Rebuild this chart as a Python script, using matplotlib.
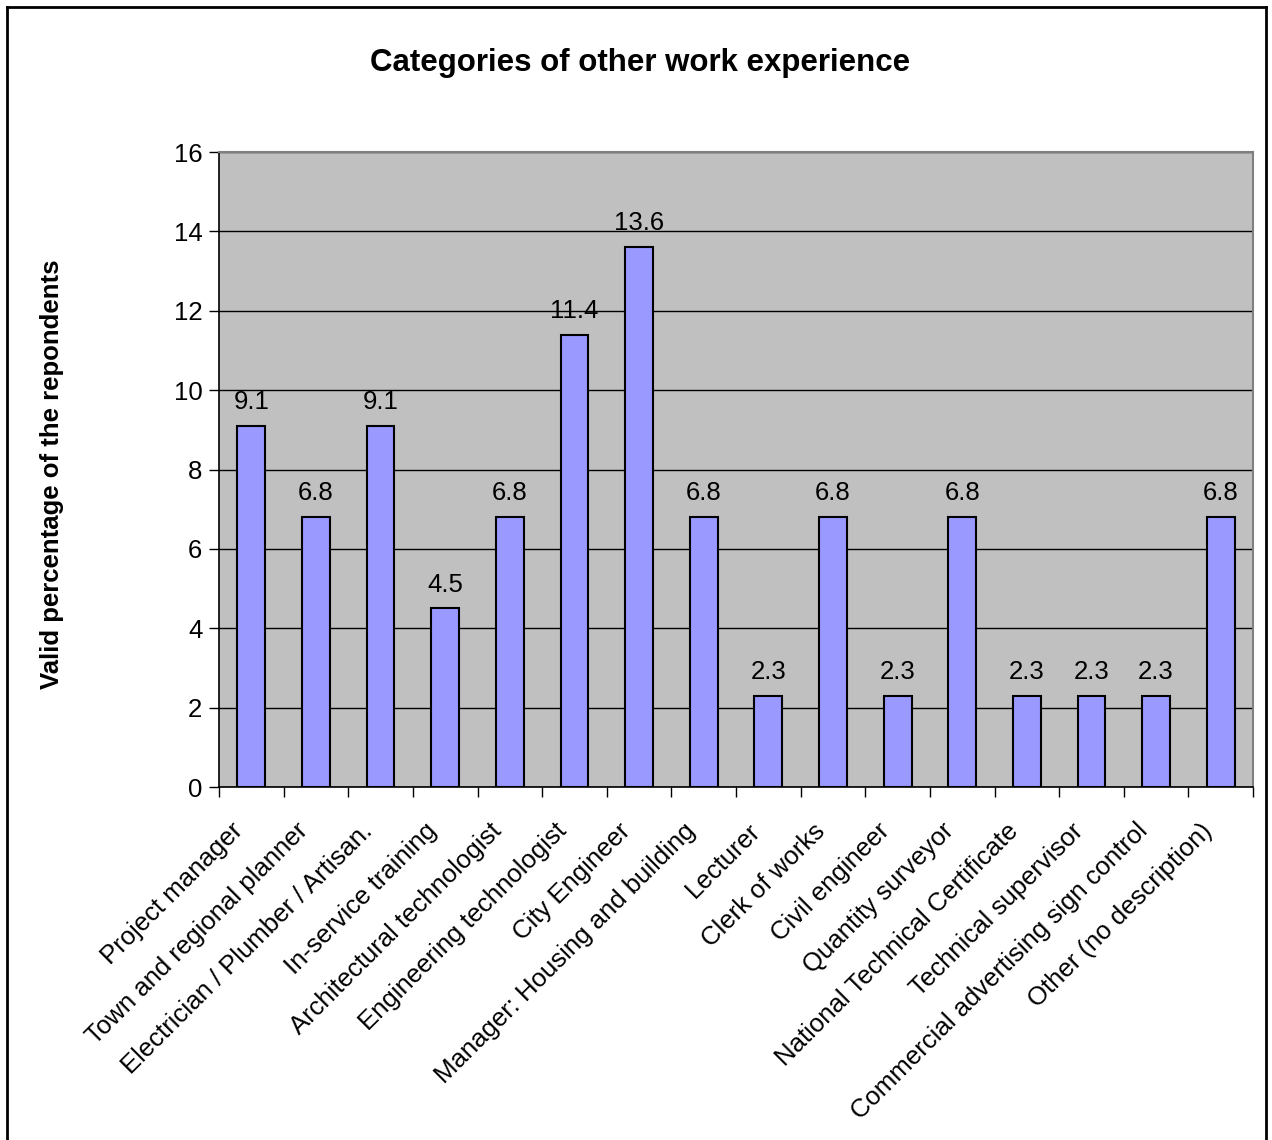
import matplotlib
matplotlib.use('Agg')
import matplotlib.pyplot as plt
import matplotlib.transforms as mtransforms
from matplotlib.lines import Line2D
import numpy as np

plt.rcParams['font.family'] = ['Liberation Sans', 'DejaVu Sans']

categories = ['Project manager', 'Town and regional planner',
              'Electrician / Plumber / Artisan.', 'In-service training',
              'Architectural technologist', 'Engineering technologist',
              'City Engineer', 'Manager: Housing and building', 'Lecturer',
              'Clerk of works', 'Civil engineer', 'Quantity surveyor',
              'National Technical Certificate', 'Technical supervisor',
              'Commercial advertising sign control', 'Other (no description)']
values = [9.1, 6.8, 9.1, 4.5, 6.8, 11.4, 13.6, 6.8,
          2.3, 6.8, 2.3, 6.8, 2.3, 2.3, 2.3, 6.8]

fig = plt.figure(figsize=(12.72, 11.4), dpi=100)
ax = fig.add_axes([0.1722, 0.3096, 0.8129, 0.557])

x = np.arange(len(categories)) + 0.5
ax.bar(x, values, width=0.43, color='#9999FF', edgecolor='black', linewidth=1.5, zorder=3)
ax.set_facecolor('#C0C0C0')
ax.set_xlim(0, len(categories))
ax.set_ylim(0, 16)
ax.set_yticks(np.arange(0, 17, 2))
ax.yaxis.grid(True, color='black', linewidth=1, zorder=1)

for xi, v in zip(x, values):
    ax.text(xi, v + 0.3, f'{v:.1f}', ha='center', va='bottom', fontsize=18.5, zorder=4)

ax.set_xticks(x)
ax.set_xticklabels(categories, rotation=45, ha='right', va='center',
                   rotation_mode='anchor', fontsize=18.5)
ax.tick_params(axis='x', which='major', length=0, pad=29)
shift = mtransforms.ScaledTranslation(-12 / 100, 0, fig.dpi_scale_trans)
for lbl in ax.get_xticklabels():
    lbl.set_transform(lbl.get_transform() + shift)
ax.set_xticks(np.arange(0, len(categories) + 1), minor=True)
ax.tick_params(axis='x', which='minor', length=7, width=1, direction='out')
ax.tick_params(axis='y', labelsize=18.5, length=7, width=1, direction='out', pad=5)

for side in ['top', 'right']:
    ax.spines[side].set_color('#808080')
    ax.spines[side].set_linewidth(1.5)
for side in ['left', 'bottom']:
    ax.spines[side].set_color('black')
    ax.spines[side].set_linewidth(1.2)

fig.text(0.503, 0.9445, 'Categories of other work experience', ha='center', va='center',
         fontsize=22.5, fontweight='bold')
fig.text(0.041, 0.584, 'Valid percentage of the repondents', ha='center', va='center',
         rotation=90, fontsize=18.5, fontweight='bold')

# outer frame
w, h = 1272, 1140
frame = [([7 / w, 7 / w], [0, 1 - 7 / h]),
         ([7 / w, 1266 / w], [1 - 7 / h, 1 - 7 / h]),
         ([1266 / w, 1266 / w], [1 - 7 / h, 0])]
for fx, fy in frame:
    fig.add_artist(Line2D(fx, fy, color='black', linewidth=2, transform=fig.transFigure))

fig.savefig('out.png', dpi=100)
